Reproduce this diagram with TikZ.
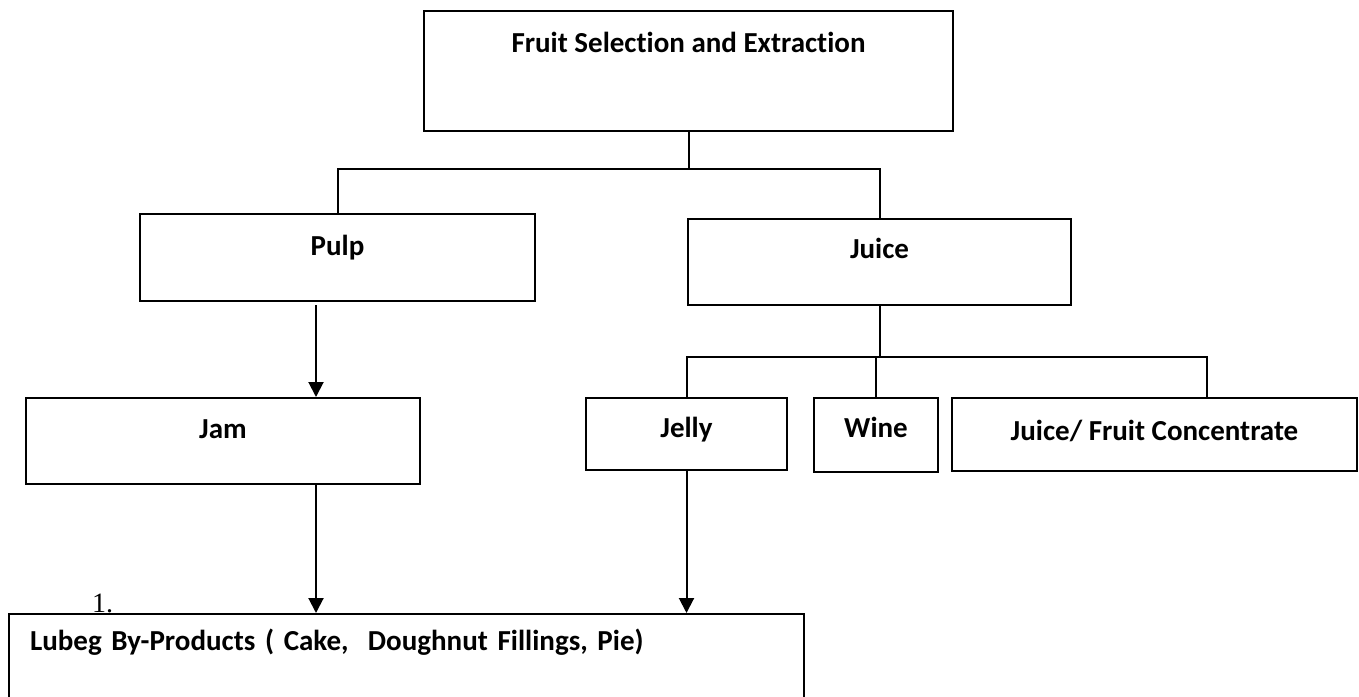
\documentclass[tikz,border=0pt]{standalone}
\usepackage{fontspec}
\setmainfont{Carlito}[Ligatures=NoCommon]
\newfontfamily\numfont{Liberation Serif}
\usetikzlibrary{arrows.meta}

\begin{document}
\begin{tikzpicture}[x=0.5pt, y=-0.5pt, line width=1pt,
    box/.style={draw, inner sep=0pt, anchor=north, font=\bfseries\fontsize{14.5}{17}\selectfont},
    flow/.style={-{Triangle[width=7.5pt,length=7.5pt]}}]
            \useasboundingbox (0,0) rectangle (1359,696);
            \node[box, minimum width=264.5pt, text height=20.5pt, text depth=39.5pt] (fse) at (688.5,10) {Fruit Selection and Extraction};
            \node[box, minimum width=197.5pt, text height=20.5pt, text depth=23pt] (pulp) at (337.5,213) {Pulp};
            \node[box, minimum width=191.5pt, text height=19.5pt, text depth=23.5pt] (juice) at (879.5,218) {Juice};
            \node[box, minimum width=197pt, text height=20pt, text depth=23pt] (jam) at (223,397) {Jam};
            \node[box, minimum width=100.5pt, text height=19.5pt, text depth=16.5pt] (jelly) at (686.5,397) {Jelly};
            \node[box, minimum width=62pt, text height=19.5pt, text depth=17.5pt] (wine) at (876,397) {Wine};
            \node[box, minimum width=202.5pt, text height=21pt, text depth=15.5pt] (jfc) at (1154.5,397) {Juice/ Fruit Concentrate};
            \node[box, anchor=north west, inner xsep=10.5pt, text width=376.5pt, align=left, text height=18pt, text depth=27pt] (lubeg) at (8,613) {Lubeg By-Products ( Cake,~ Doughnut Fillings, Pie)};
            \node[anchor=base west, inner sep=0pt, font=\numfont\fontsize{14}{16}\selectfont] (num) at (91,612) {1.};
            \coordinate (split1) at (688.5,169);
            \coordinate (split2) at (879.5,357);
            \coordinate (colA) at (316,0);
            \coordinate (colC) at (1207,0);
            \draw (fse.south) -- (split1)
                  (pulp.north) |- (split1) -| (juice.north);
            \draw (juice.south) -- (split2)
                  (jelly.north) |- (split2) -| (jfc.north -| colC)
                  (wine.north) -- (wine.north |- split2);
            \draw [flow, shorten <=1.5pt] (pulp.south -| colA) -- (jam.north -| colA);
            \draw [flow] (jam.south -| colA) -- (lubeg.north -| colA);
            \draw [flow] (jelly.south) -- (jelly.south |- lubeg.north);
\end{tikzpicture}
\end{document}
